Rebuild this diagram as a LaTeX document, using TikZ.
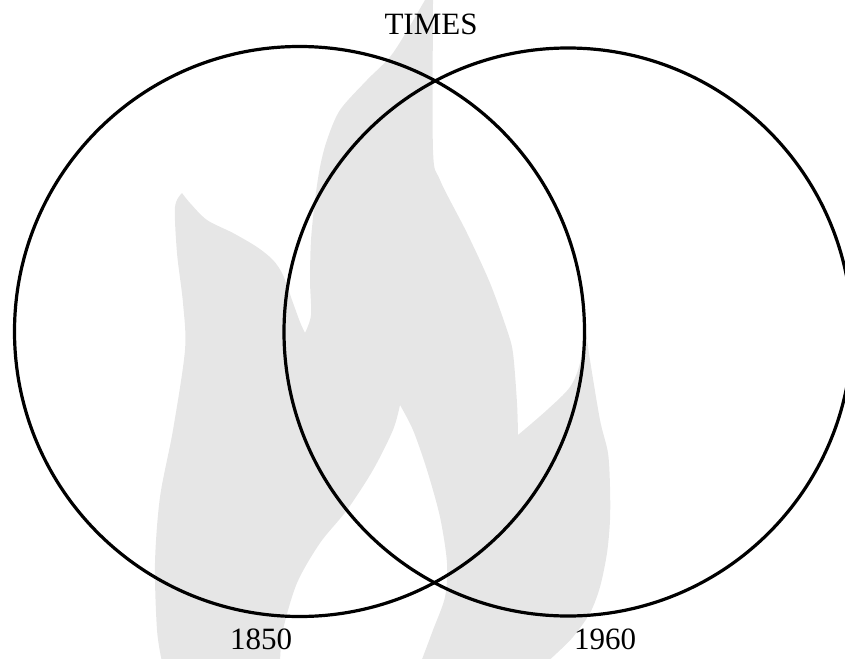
\documentclass[tikz,border=0pt]{standalone}
\usepackage{fontspec}
\setmainfont{Liberation Serif}
\definecolor{flamegray}{RGB}{230,230,230}
\tikzset{
  ring/.style={draw=black, line width=3.2pt},
  flame/.style={fill=flamegray},
  lbl/.style={font=\fontsize{31}{31}\selectfont, anchor=base, inner sep=0pt}
}
\begin{document}
\begin{tikzpicture}[x=1pt,y=-1pt]
\useasboundingbox (0,0) rectangle (845,658);
\begin{scope}
\clip (0,0) rectangle (845,658);
\fill[flame] plot[smooth] coordinates {(162,662) (157,630) (155,563) (160,497) (173,430) (185,350) (183,303) (177,253) (175,207) (182,193)}
 -- plot[smooth] coordinates {(182,193) (190,203) (207,220) (233,233) (257,247) (273,260) (283,275) (292,300) (300,322) (305,333)}
 -- plot[smooth] coordinates {(305,333) (311,315) (310,280) (311,240) (315,200) (320,167) (327,140) (340,110) (367,80) (393,53) (425,0) (430,-10)}
 -- plot[smooth] coordinates {(433,-10) (433,0) (433,150) (440,180) (467,233) (490,283) (507,330) (513,353) (517,403) (518,435)}
 -- plot[smooth] coordinates {(518,435) (547,410) (570,387) (580,363) (585,325)}
 -- plot[smooth] coordinates {(585,325) (590,360) (600,420) (608,453) (610,487) (610,520) (607,553) (600,587) (590,613) (573,637) (557,653) (547,662)}
 -- plot[smooth] coordinates {(421,662) (433,630) (445,597) (447,563) (440,517) (427,470) (413,430) (400,405)}
 -- plot[smooth] coordinates {(400,405) (393,430) (373,470) (347,510) (320,543) (297,583) (283,630) (280,662)}
 -- cycle;
\draw[ring] (299.5,331.5) circle[radius=285];
\draw[ring] (568,332) circle[radius=284];
\end{scope}
\coordinate (c1) at (299.5,331.5);
\coordinate (c2) at (568,332);
\node[lbl] (times) at (431,35) {TIMES};
\node[lbl] (y1850) at (261,649.5) {1850};
\node[lbl] (y1960) at (605,649.5) {1960};
\end{tikzpicture}
\end{document}
